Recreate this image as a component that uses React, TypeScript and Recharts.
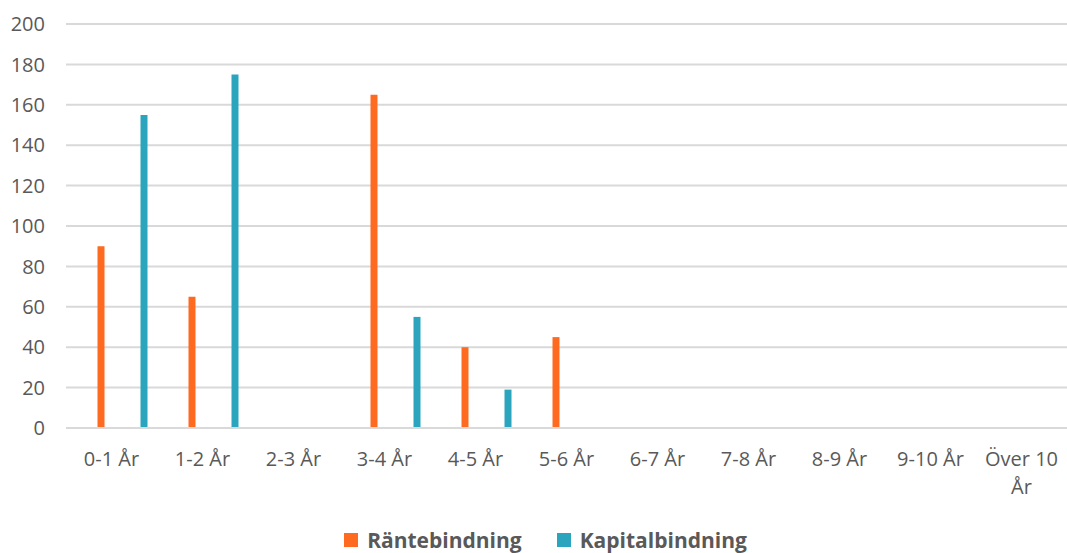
import { Bar, BarChart, CartesianGrid, Legend, XAxis, YAxis } from "recharts";

const categories = [
  "0-1 År",
  "1-2 År",
  "2-3 År",
  "3-4 År",
  "4-5 År",
  "5-6 År",
  "6-7 År",
  "7-8 År",
  "8-9 År",
  "9-10 År",
  "Över 10 År",
];
const ranteValues = [90, 65, null, 165, 40, 45, null, null, null, null, null];
const kapitalValues = [155, 175, null, 55, 19, null, null, null, null, null, null];
const yTicks = [0, 20, 40, 60, 80, 100, 120, 140, 160, 180, 200];

const ORANGE = "#FF6A21";
const TEAL = "#2BA5BE";
const TEXT = "#595959";
const FONT = "'Open Sans', sans-serif";

const data = categories.map((name, i) => ({
  name,
  rante: ranteValues[i],
  kapital: kapitalValues[i],
  // empty slots, the source chart leaves room for them in each cluster
  spacerA: null,
  spacerB: null,
}));

const legendItems = [
  { label: "Räntebindning", color: ORANGE },
  { label: "Kapitalbindning", color: TEAL },
];

// long labels don't fit in a band, so the last word goes on a second line
const splitLabel = (label: string) => {
  if (label.length <= 8) return [label];
  const cut = label.lastIndexOf(" ");
  return [label.slice(0, cut), label.slice(cut + 1)];
};

const CategoryTick = (props: any) => {
  const { x, y, payload } = props;
  const lines = splitLabel(String(payload.value));
  return (
    <text
      x={x}
      y={y}
      textAnchor="middle"
      fill={TEXT}
      fontSize={20}
      fontFamily={FONT}
    >
      {lines.map((line, i) => (
        <tspan key={i} x={x} dy={i === 0 ? "0.72em" : 28}>
          {line}
        </tspan>
      ))}
    </text>
  );
};

const LegendContent = () => (
  <div
    style={{
      display: "flex",
      justifyContent: "center",
      alignItems: "center",
      height: 26,
      paddingLeft: 24,
      gap: 35,
      fontFamily: FONT,
      fontWeight: 700,
      fontSize: 21,
      color: TEXT,
    }}
  >
    {legendItems.map((item) => (
      <div key={item.label} style={{ display: "flex", alignItems: "center" }}>
        <span
          style={{
            display: "inline-block",
            width: 14,
            height: 14,
            background: item.color,
            marginRight: 9,
          }}
        />
        {item.label}
      </div>
    ))}
  </div>
);

export default function App() {
  return (
    <div
      style={{
        position: "absolute",
        top: 0,
        left: 0,
        width: 1067,
        height: 553,
        overflow: "hidden",
        background: "#fff",
      }}
    >
      <BarChart
        width={1067}
        height={553}
        data={data}
        barSize={7}
        barGap={14.5}
        margin={{ top: 24, right: 0, left: 0, bottom: 69 }}
      >
        <CartesianGrid vertical={false} stroke="#D9D9D9" strokeWidth={2} />
        <XAxis
          dataKey="name"
          interval={0}
          axisLine={{ stroke: "#D9D9D9", strokeWidth: 2 }}
          tickLine={false}
          tickSize={0}
          tickMargin={24}
          tick={<CategoryTick />}
        />
        <YAxis
          width={66}
          domain={[0, 200]}
          ticks={yTicks}
          axisLine={false}
          tickLine={false}
          tickSize={0}
          tickMargin={21}
          tick={{ fill: TEXT, fontSize: 20, fontFamily: FONT }}
        />
        <Legend verticalAlign="bottom" content={<LegendContent />} wrapperStyle={{ bottom: 0 }} />
        <Bar dataKey="spacerA" legendType="none" fill="transparent" isAnimationActive={false} />
        <Bar dataKey="rante" name="Räntebindning" fill={ORANGE} isAnimationActive={false} />
        <Bar dataKey="spacerB" legendType="none" fill="transparent" isAnimationActive={false} />
        <Bar dataKey="kapital" name="Kapitalbindning" fill={TEAL} isAnimationActive={false} />
      </BarChart>
    </div>
  );
}
